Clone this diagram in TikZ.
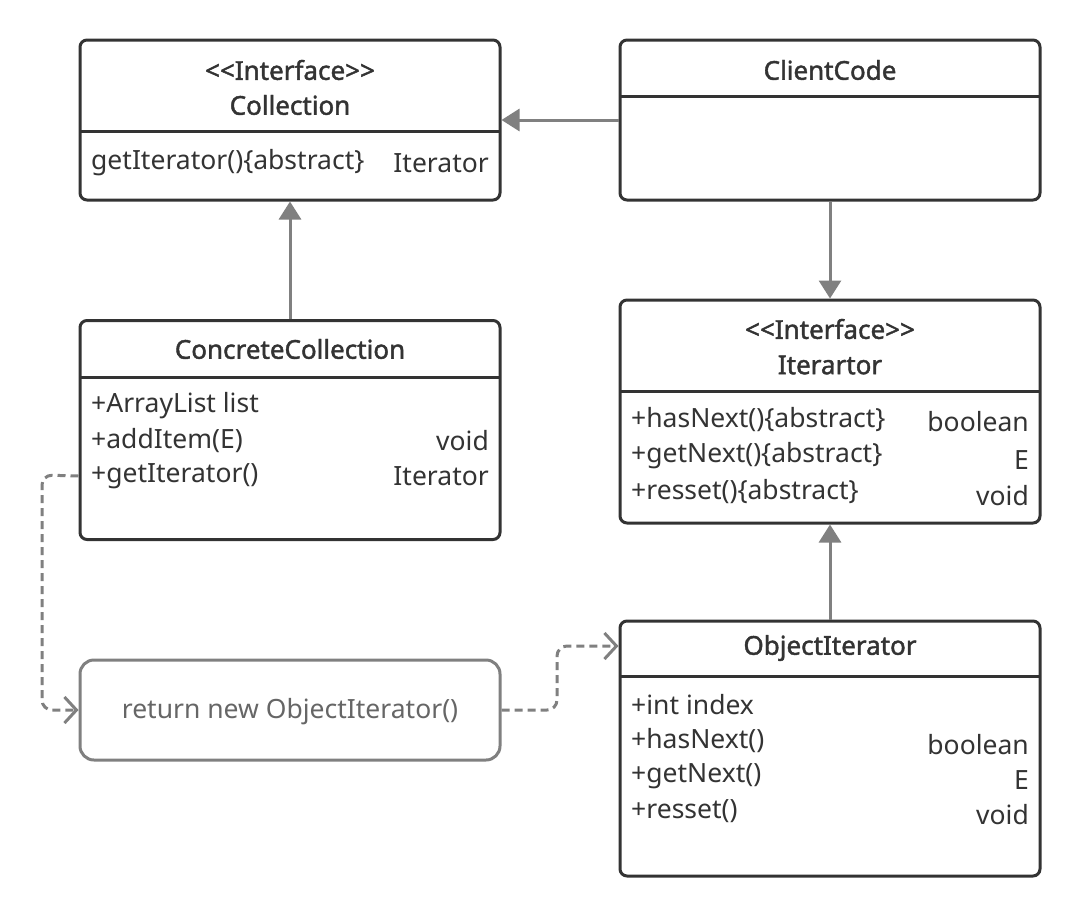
\documentclass[tikz,border=0pt]{standalone}
\usepackage{fontspec}
\setmainfont{Noto Sans}
\newfontfamily\titlefont[FakeBold=1.6]{Noto Sans}
\usetikzlibrary{arrows.meta}
\definecolor{ink}{HTML}{333333}
\definecolor{conn}{HTML}{808080}
\definecolor{soft}{HTML}{666666}
\tikzset{
  umlbox/.style={draw=ink, line width=3pt, rounded corners=7pt, fill=white, inner sep=0pt},
  notebox/.style={draw=conn, line width=3pt, rounded corners=14pt, fill=white, inner sep=0pt},
  divider/.style={draw=ink, line width=3pt},
  ttl/.style={text=ink, font=\titlefont\fontsize{26}{30}\selectfont, inner sep=0pt},
  row/.style={text=ink, font=\fontsize{26.5}{30}\selectfont, inner sep=0pt, anchor=west},
  rtype/.style={text=ink, font=\fontsize{26.5}{30}\selectfont, inner sep=0pt, anchor=east},
  assoc/.style={draw=conn, line width=3pt, -{Triangle[length=18pt,width=22pt]}},
  dep/.style={draw=conn, line width=3pt, dash pattern=on 8pt off 5pt, rounded corners=10pt, -{Straight Barb[length=12pt,width=26pt,line width=3pt]}}
}
\begin{document}
\begin{tikzpicture}[x=1pt,y=-1pt]
\useasboundingbox[fill=white] (0,0) rectangle (1081,916);

% Collection
\node[umlbox, minimum width=420pt, minimum height=160pt] (coll) at (290,120) {};
\draw[divider] (80,131) -- (500,131);
\node[ttl] (collst) at (290,70) {<<Interface>>};
\node[ttl] (collname) at (290,105) {Collection};
\node[row] (collm) at (91,163) {getIterator()\{abstract\}};
\node[rtype] (collt) at (489,163) {Iterator};

% ClientCode
\node[umlbox, minimum width=420pt, minimum height=160pt] (cc) at (830,120) {};
\draw[divider] (620,96) -- (1040,96);
\node[ttl] (ccname) at (830,70) {ClientCode};

% ConcreteCollection
\node[umlbox, minimum width=420pt, minimum height=219pt] (conc) at (290,430) {};
\draw[divider] (80,377) -- (500,377);
\node[ttl] (concname) at (290,349) {ConcreteCollection};
\node[row] (conca) at (91,406) {+ArrayList list};
\node[row] (concb) at (91,441) {+addItem(E)};
\node[rtype] (concbt) at (489,441) {void};
\node[row] (concc) at (91,476) {+getIterator()};
\node[rtype] (concct) at (489,476) {Iterator};

% Iterartor
\node[umlbox, minimum width=420pt, minimum height=223pt] (iter) at (830,411.5) {};
\draw[divider] (620,391) -- (1040,391);
\node[ttl] (iterst) at (830,329) {<<Interface>>};
\node[ttl] (itername) at (830,365) {Iterartor};
\node[row] (itera) at (631,420) {+hasNext()\{abstract\}};
\node[rtype] (iterat) at (1029,422) {boolean};
\node[row] (iterb) at (631,456) {+getNext()\{abstract\}};
\node[rtype] (iterbt) at (1029,460) {E};
\node[row] (iterc) at (631,492) {+resset()\{abstract\}};
\node[rtype] (iterct) at (1029,496) {void};

% ObjectIterator
\node[umlbox, minimum width=420pt, minimum height=255pt] (obj) at (830,748.5) {};
\draw[divider] (620,676) -- (1040,676);
\node[ttl] (objname) at (830,648) {ObjectIterator};
\node[row] (obja) at (631,705) {+int index};
\node[row] (objb) at (631,741) {+hasNext()};
\node[rtype] (objbt) at (1029,745) {boolean};
\node[row] (objc) at (631,776) {+getNext()};
\node[rtype] (objct) at (1029,780) {E};
\node[row] (objd) at (631,811) {+resset()};
\node[rtype] (objdt) at (1029,815) {void};

% return note
\node[notebox, minimum width=420pt, minimum height=100pt] (ret) at (290,710) {};
\node[text=soft, font=\fontsize{26.5}{30}\selectfont, inner sep=0pt] (rettext) at (290,712) {return new ObjectIterator()};

% connectors
\draw[assoc] (cc.west) -- (coll.east);
\draw[assoc] (conc.north) -- (coll.south);
\draw[assoc] (cc.south) -- (iter.north);
\draw[assoc] (obj.north) -- (iter.south);

\coordinate (d1a) at (42,475);
\coordinate (d2a) at (557,646);
\draw[dep] (conc.west |- concc) -- (d1a) |- (ret.west);
\draw[dep] (ret.east) -| (d2a) -- (obj.west |- d2a);
\end{tikzpicture}
\end{document}
